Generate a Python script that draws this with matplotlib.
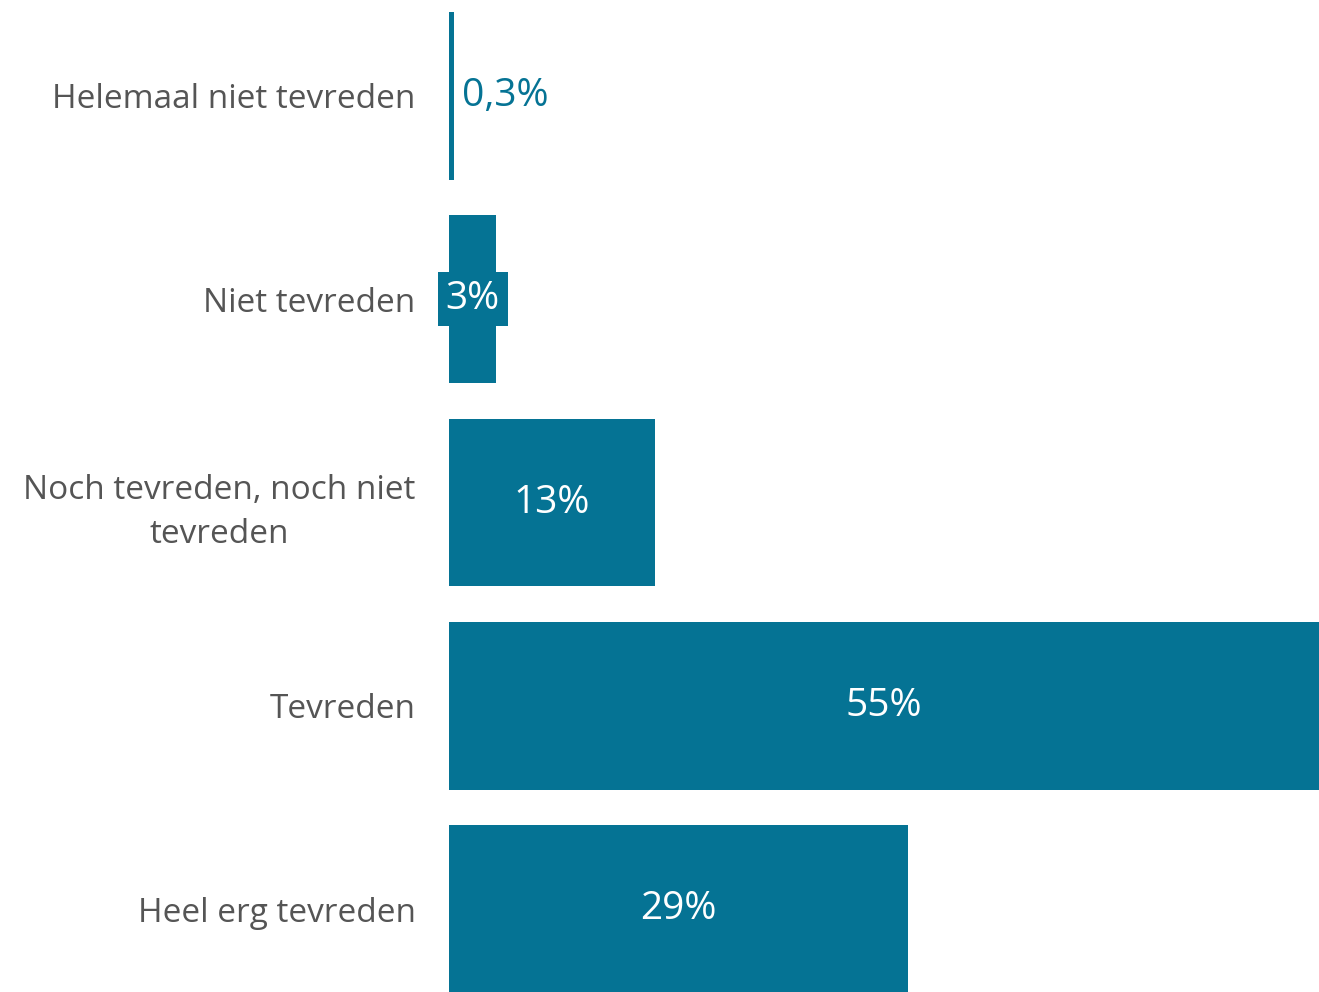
import matplotlib
matplotlib.use('Agg')
import matplotlib.pyplot as plt

# data
categories = ['Helemaal niet tevreden', 'Niet tevreden',
              'Noch tevreden, noch niet\ntevreden', 'Tevreden', 'Heel erg tevreden']
values = [0.3, 3, 13, 55, 29]
value_labels = ['0,3%', '3%', '13%', '55%', '29%']

bar_color = '#057394'
text_color = '#555555'
plt.rcParams['font.family'] = ['Open Sans', 'DejaVu Sans']

fig = plt.figure(figsize=(13.19, 9.92), dpi=100)
ax = fig.add_axes([449 / 1319, 0, 870 / 1319, 1])

y = list(range(len(categories)))
ax.barh(y, values, height=0.826, color=bar_color)

ax.set_xlim(0, 55)
ax.set_ylim(4.408, -0.472)

for i, (v, lab) in enumerate(zip(values, value_labels)):
    if v < 1:
        # tiny bar: label outside
        ax.text(v + 0.5, i, lab, ha='left', va='center', fontsize=28, color=bar_color)
    elif v < 5:
        ax.text(v / 2, i, lab, ha='center', va='center', fontsize=28, color='white',
                bbox=dict(boxstyle='square,pad=0.2', facecolor=bar_color, edgecolor='none'))
    else:
        ax.text(v / 2, i, lab, ha='center', va='center', fontsize=28, color='white')

ax.set_yticks(y)
ax.set_yticklabels(categories, fontsize=24, color=text_color, multialignment='center',
                   linespacing=1.45)
ax.tick_params(axis='y', length=0, pad=24)
ax.set_xticks([])
for s in ax.spines.values():
    s.set_visible(False)

fig.savefig('out.png', dpi=100)
